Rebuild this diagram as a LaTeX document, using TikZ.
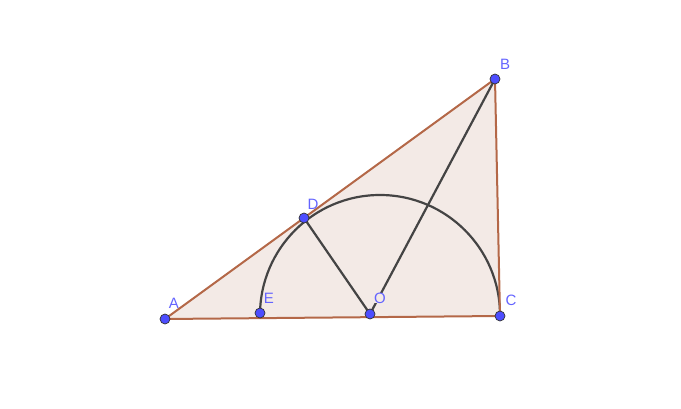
\documentclass[tikz,border=0pt]{standalone}
\usepackage{fontspec}
\setmainfont{Liberation Sans}
\definecolor{tri}{RGB}{180,104,72}
\definecolor{trifill}{RGB}{243,234,230}
\definecolor{seg}{RGB}{68,68,68}
\definecolor{pt}{RGB}{77,77,255}
\definecolor{lab}{RGB}{100,100,255}
\begin{document}
\begin{tikzpicture}[x=1pt,y=-1pt,
  ptnode/.style={circle,fill=pt,draw=black!80,line width=0.7pt,inner sep=0pt,minimum size=10pt},
  labnode/.style={text=lab,font=\fontsize{15}{15}\selectfont,inner sep=0pt},
  side/.style={draw=tri,line width=2pt},
  segline/.style={draw=seg,line width=2.2pt}]
\useasboundingbox (0,0) rectangle (681,409);
\coordinate (A) at (165,319);
\coordinate (B) at (495,79);
\coordinate (C) at (500,316);
\coordinate (D) at (304,218);
\coordinate (E) at (260,313);
\coordinate (O) at (370,314);
\coordinate (K) at (380,315);
\fill[trifill] (A) -- (B) -- (C) -- cycle;
\draw[segline] (B) -- (O);
\draw[segline] (D) -- (O);
\draw[segline] (K) ++(0:120pt) arc[start angle=0,end angle=180,radius=120pt];
\draw[side] (A) -- (B) -- (C) -- cycle;
\foreach \p in {A,B,C,D,E,O} \node[ptnode] (n\p) at (\p) {};
\node[labnode] (lA) at (174,303) {A};
\node[labnode] (lB) at (505,64) {B};
\node[labnode] (lC) at (511,300) {C};
\node[labnode] (lD) at (313,204) {D};
\node[labnode] (lE) at (269,298) {E};
\node[labnode,fill=trifill] (lO) at (380,298) {O};
\end{tikzpicture}
\end{document}
